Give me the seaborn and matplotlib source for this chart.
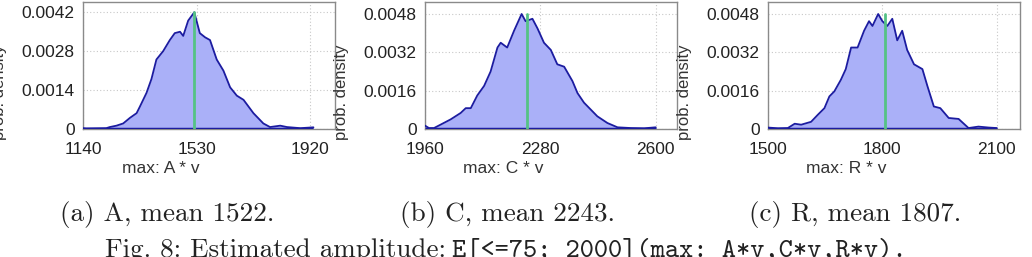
import numpy as np
import pandas as pd
import matplotlib
matplotlib.use("Agg")
import matplotlib.pyplot as plt
import seaborn as sns

#### DATA

# panel a : max A*v
xA = [1140, 1151, 1220, 1232, 1255, 1278, 1301, 1324, 1335, 1358, 1375, 1392, 1415, 1438,
      1455, 1473, 1484, 1501, 1522, 1541, 1559, 1576, 1599, 1622, 1645, 1668, 1691, 1725,
      1759, 1782, 1817, 1840, 1863, 1886, 1931]
yA = [0.00003, 0.00002, 0.00003, 0.00007, 0.00012, 0.0002, 0.0004, 0.00057, 0.0008, 0.0013,
      0.0018, 0.0025, 0.0028, 0.0032, 0.00345, 0.0035, 0.00335, 0.0039, 0.0042, 0.00345,
      0.0033, 0.0032, 0.0025, 0.0021, 0.0015, 0.0012, 0.00105, 0.00057, 0.0002, 0.00007,
      0.00012, 0.00007, 0.00005, 0.00003, 0.00006]

# panel b : max C*v
xC = [1960, 1971, 1985, 2003, 2031, 2059, 2073, 2087, 2105, 2124, 2142, 2161, 2170, 2188,
      2207, 2228, 2239, 2258, 2272, 2290, 2309, 2327, 2346, 2369, 2383, 2401, 2438, 2466,
      2494, 2531, 2568, 2600]
yC = [0.00014, 0.00004, 0.00004, 0.00018, 0.0004, 0.00067, 0.00087, 0.00087, 0.0014, 0.0018,
      0.0024, 0.0034, 0.0036, 0.0034, 0.0041, 0.0048, 0.0045, 0.0046, 0.0042, 0.0036,
      0.0033, 0.0027, 0.0026, 0.002, 0.0015, 0.0011, 0.00053, 0.00025, 0.00007, 0.00004,
      0.00003, 0.00007]

# panel c : max R*v
xR = [1500, 1526, 1552, 1570, 1587, 1613, 1631, 1648, 1661, 1674, 1691, 1704, 1718, 1735,
      1752, 1765, 1774, 1789, 1800, 1813, 1826, 1839, 1852, 1865, 1883, 1905, 1918, 1935,
      1952, 1974, 2000, 2026, 2052, 2079, 2100]
yR = [0.00006, 0.00003, 0.00004, 0.00022, 0.00018, 0.0003, 0.0006, 0.00087, 0.00136, 0.00157,
      0.00205, 0.0025, 0.0034, 0.0034, 0.0041, 0.0045, 0.0043, 0.0048, 0.0045, 0.0043,
      0.0046, 0.0037, 0.0041, 0.0033, 0.0027, 0.0025, 0.0018, 0.00094, 0.00087, 0.00046,
      0.00042, 0.00004, 0.0001, 0.00006, 0.00004]

means = [1522, 2243, 1807]
letters = ['A', 'C', 'R']
xlims = [(1140, 2005), (1960, 2659), (1500, 2161)]
ylims = [0.00457, 0.0053, 0.0053]
xticks = [[1140, 1530, 1920], [1960, 2280, 2600], [1500, 1800, 2100]]
yticks = [[0, 0.0014, 0.0028, 0.0042], [0, 0.0016, 0.0032, 0.0048], [0, 0.0016, 0.0032, 0.0048]]
ytick_labels = [['0', '0.0014', '0.0028', '0.0042'], ['0', '0.0016', '0.0032', '0.0048'],
                ['0', '0.0016', '0.0032', '0.0048']]
subcaps = ['(a) A, mean 1522.', '(b) C, mean 2243.', '(c) R, mean 1807.']

#### PLOT

sns.set_style("white")
plt.rcParams['font.family'] = ['Liberation Sans', 'DejaVu Sans']

W, H = 1032, 257
fg = plt.figure(figsize=(W / 100, H / 100), dpi=100)

ax_left = [83, 425, 768]
ax_w = 252
ax_top, ax_bot = 2, 129

fill_col = '#aab0f8'
line_col = '#1c1ca0'
green_col = '#55c285'

data = [(xA, yA), (xC, yC), (xR, yR)]

for i in range(3):
    ax = fg.add_axes([ax_left[i] / W, (H - ax_bot) / H, ax_w / W, (ax_bot - ax_top) / H])
    df = pd.DataFrame({'x': data[i][0], 'y': data[i][1]})

    ax.fill_between(df['x'], 0, df['y'], color=fill_col, lw=0, zorder=2)
    sns.lineplot(data=df, x='x', y='y', ax=ax, color=line_col, lw=1.3, zorder=3)
    ax.plot([df['x'].iloc[0], df['x'].iloc[-1]], [0, 0], color=line_col, lw=2.5, zorder=3,
            solid_capstyle='butt')
    ax.plot([means[i], means[i]], [0, df['y'].max()], color=green_col, lw=2, zorder=4)

    ax.set_xlim(*xlims[i])
    ax.set_ylim(0, ylims[i])
    ax.set_xticks(xticks[i])
    ax.set_yticks(yticks[i])
    ax.set_yticklabels(ytick_labels[i])
    ax.tick_params(axis='both', length=0, labelsize=12.5, colors='#222222')
    ax.tick_params(axis='x', pad=9)
    ax.tick_params(axis='y', pad=6)

    ax.grid(True, linestyle=(0, (1, 2)), color='#c8c8c8', lw=0.8, zorder=0)
    ax.set_axisbelow(True)
    for s in ax.spines.values():
        s.set_color('#8a8a8a')
        s.set_linewidth(1.0)

    ax.set_xlabel('max: ' + letters[i] + ' * v', fontsize=12.5, color='#333333')
    ax.xaxis.set_label_coords(0.31, -0.25)
    ax.set_ylabel('prob. density', fontsize=12, color='#333333')
    ax.yaxis.set_label_coords(-0.30, 0.29)

    # subcaption
    cx = [167, 508, 855][i]
    fg.text(cx / W, (H - 221) / H, subcaps[i], family='cmr10', fontsize=19.5,
            ha='center', va='baseline', color='#222222')

# figure caption
fg.text(446 / W, (H - 257) / H, 'Fig. 8: Estimated amplitude:', family='cmr10', fontsize=19.5,
        ha='right', va='baseline', color='#222222')
fg.text(452 / W, (H - 257) / H, 'E[<=75; 2000](max: A*v,C*v,R*v).', family='cmtt10',
        fontsize=19.5, ha='left', va='baseline', color='#222222')

plt.savefig('out.png', dpi=100)
